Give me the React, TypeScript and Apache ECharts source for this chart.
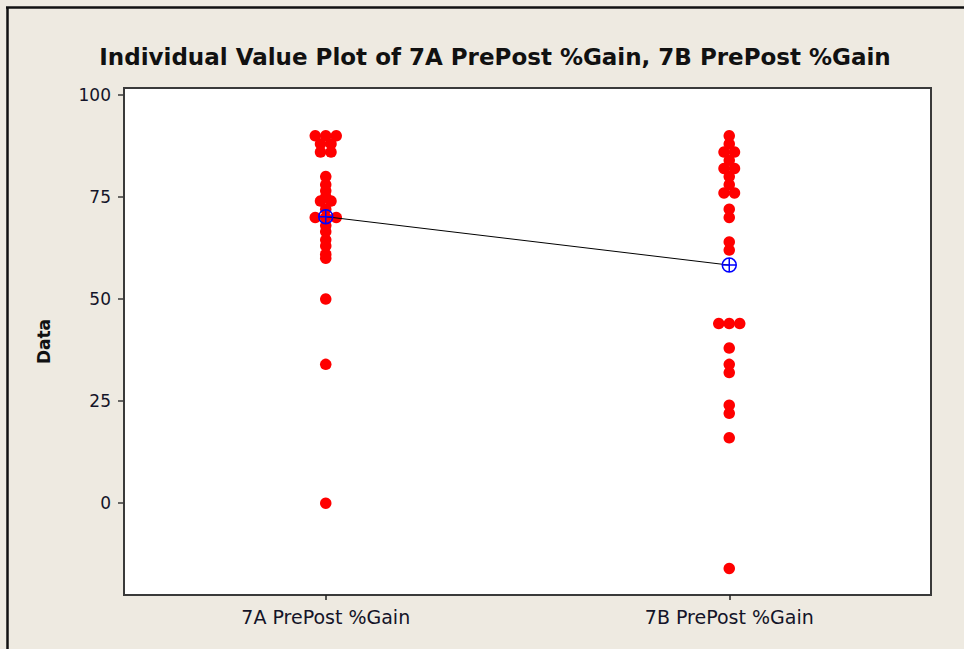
import React, { useEffect, useRef } from "react";
import * as echarts from "echarts";

const title = "Individual Value Plot of 7A PrePost %Gain, 7B PrePost %Gain";
const categories = ["7A PrePost %Gain", "7B PrePost %Gain"];
const yAxisName = "Data";
const yTicks = [0, 25, 50, 75, 100];

const gain7A = [
  90, 90, 90, 88, 88, 86, 86, 80, 78, 76.5, 75, 74, 74, 72, 70, 70, 70, 68, 66.5, 64.5, 63, 61, 60, 50, 34, 0,
];
const gain7B = [
  90, 88, 86, 86, 84, 82, 82, 80, 78, 76, 76, 72, 70, 64, 62, 44, 44, 44, 38, 34, 32, 24, 22, 16, -16,
];

const groups = [gain7A, gain7B];

function spreadTies(values: number[], pos: number, spacing: number): number[][] {
  const counts = new Map<number, number>();
  values.forEach((v) => counts.set(v, (counts.get(v) || 0) + 1));
  const seen = new Map<number, number>();
  return values.map((v) => {
    const n = counts.get(v) || 1;
    const i = seen.get(v) || 0;
    seen.set(v, i + 1);
    return [pos + (i - (n - 1) / 2) * spacing, v];
  });
}

const mean = (a: number[]) => a.reduce((s, v) => s + v, 0) / a.length;

export default function App() {
  const ref = useRef<HTMLDivElement>(null);
  useEffect(() => {
    if (!ref.current) return;
    const chart = echarts.init(ref.current, undefined, { renderer: "svg" });
    const points: number[][] = [];
    groups.forEach((g, gi) => points.push(...spreadTies(g, gi + 1, 0.026)));
    const means = groups.map((g, gi) => [gi + 1, mean(g)]);
    const textColor = "#141428";
    chart.setOption({
      animation: false,
      backgroundColor: "#EEEAE1",
      textStyle: { fontFamily: "DejaVu Sans" },
      title: {
        text: title,
        left: 490,
        top: 40,
        textAlign: "center",
        textStyle: { fontFamily: "DejaVu Sans", fontWeight: "bold", fontSize: 23, color: "#111" },
      },
      grid: {
        left: 124,
        top: 88,
        right: 33,
        bottom: 54,
        show: true,
        backgroundColor: "#ffffff",
        borderColor: "#3a3a3a",
        borderWidth: 2,
      },
      xAxis: {
        type: "value",
        min: 0.5,
        max: 2.5,
        position: "bottom",
        splitLine: { show: false },
        axisLine: { show: false, onZero: false },
        axisTick: {
          show: true,
          customValues: [1, 2],
          length: 5,
          inside: false,
          lineStyle: { color: "#222", width: 1.5 },
        },
        axisLabel: {
          customValues: [1, 2],
          formatter: (v: number) => categories[Math.round(v) - 1] || "",
          margin: 12,
          fontSize: 19,
          color: textColor,
          fontFamily: "DejaVu Sans",
        },
      },
      yAxis: {
        type: "value",
        min: -22.5,
        max: 101.7,
        name: yAxisName,
        nameLocation: "middle",
        nameGap: 72,
        nameTextStyle: { fontWeight: "bold", fontSize: 17, color: "#111", fontFamily: "DejaVu Sans" },
        splitLine: { show: false },
        axisLine: { show: false, onZero: false },
        axisTick: { show: true, customValues: yTicks, length: 6, lineStyle: { color: "#3a3a3a", width: 1.5 } },
        axisLabel: {
          customValues: yTicks,
          margin: 13,
          fontSize: 17,
          color: textColor,
          fontFamily: "DejaVu Sans",
        },
      },
      graphic: [
        { type: "line", shape: { x1: 7.5, y1: 7.5, x2: 7.5, y2: 649 }, style: { stroke: "#111", lineWidth: 2.5 } },
        { type: "line", shape: { x1: 6, y1: 7.5, x2: 964, y2: 7.5 }, style: { stroke: "#111", lineWidth: 2.5 } },
      ],
      series: [
        {
          type: "scatter",
          data: points,
          symbol: "circle",
          symbolSize: 11.5,
          itemStyle: { color: "#ff0000", opacity: 1 },
          z: 2,
        },
        {
          type: "line",
          data: means,
          symbol: "path://M7,0A7,7 0 1,1 -7,0A7,7 0 1,1 7,0ZM-7,0L7,0M0,-7L0,7",
          symbolSize: 14,
          lineStyle: { color: "#000", width: 1 },
          itemStyle: { color: "rgba(0,0,0,0)", borderColor: "#0000ff", borderWidth: 1.5 },
          z: 3,
        },
      ],
    });
    return () => chart.dispose();
  }, []);
  return (
    <div
      ref={ref}
      style={{ position: "fixed", left: 0, top: 0, width: 964, height: 649 }}
    />
  );
}
